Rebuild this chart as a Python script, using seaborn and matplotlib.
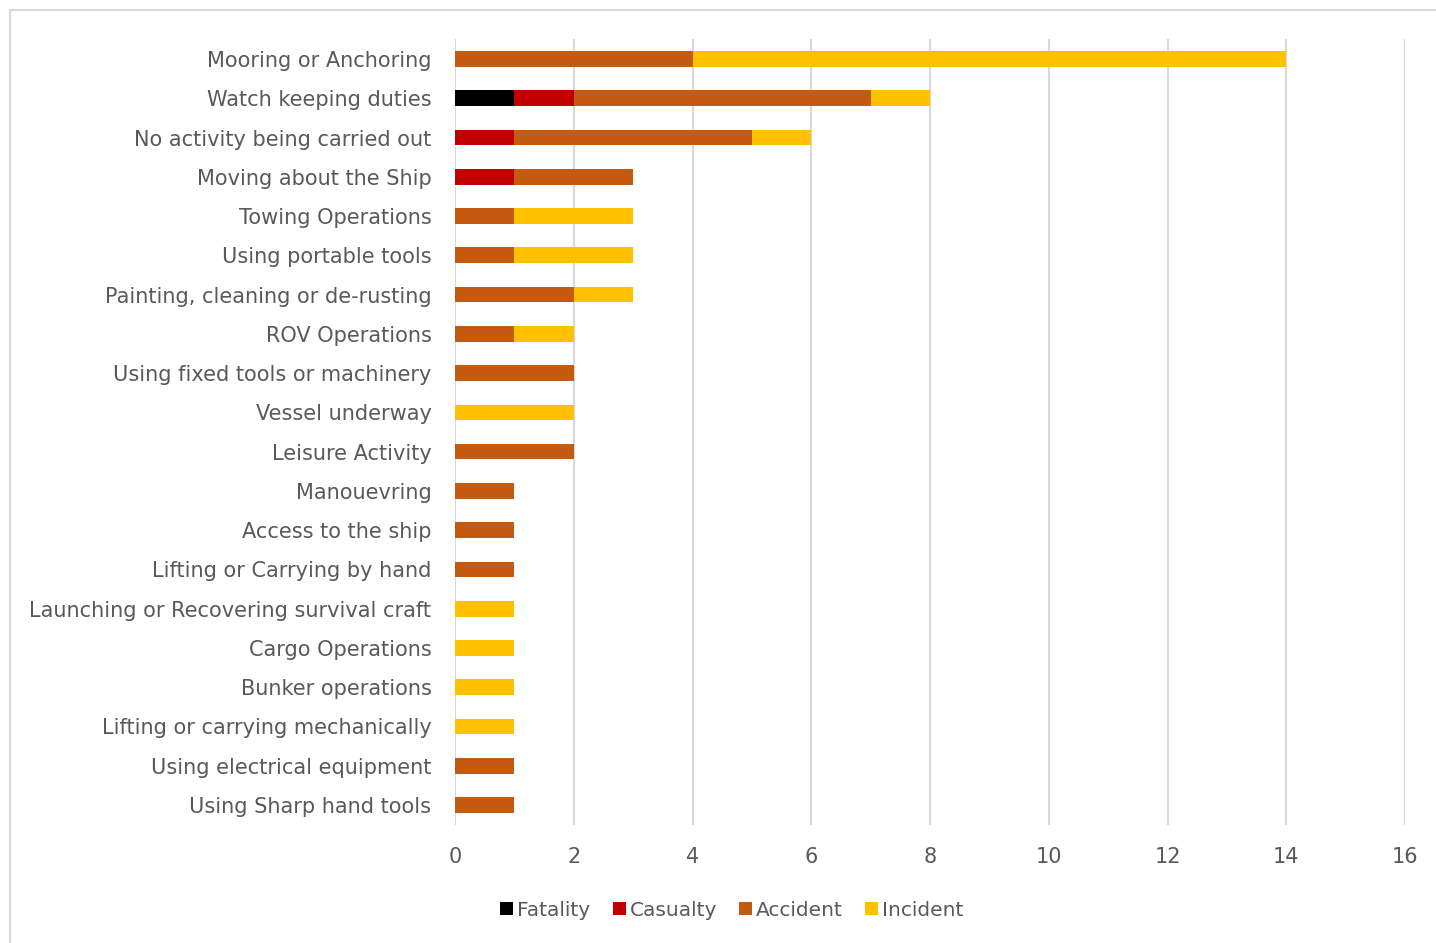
import matplotlib
matplotlib.use("Agg")
import matplotlib.pyplot as plt
import seaborn as sns
import pandas as pd
import numpy as np
from matplotlib.patches import Rectangle, Patch

categories = [
    "Mooring or Anchoring", "Watch keeping duties", "No activity being carried out",
    "Moving about the Ship", "Towing Operations", "Using portable tools",
    "Painting, cleaning or de-rusting", "ROV Operations", "Using fixed tools or machinery",
    "Vessel underway", "Leisure Activity", "Manouevring", "Access to the ship",
    "Lifting or Carrying by hand", "Launching or Recovering survival craft",
    "Cargo Operations", "Bunker operations", "Lifting or carrying mechanically",
    "Using electrical equipment", "Using Sharp hand tools",
]
fatality = [0, 1, 0, 0, 0, 0, 0, 0, 0, 0, 0, 0, 0, 0, 0, 0, 0, 0, 0, 0]
casualty = [0, 1, 1, 1, 0, 0, 0, 0, 0, 0, 0, 0, 0, 0, 0, 0, 0, 0, 0, 0]
accident = [4, 5, 4, 2, 1, 1, 2, 1, 2, 0, 2, 1, 1, 1, 0, 0, 0, 0, 1, 1]
incident = [10, 1, 1, 0, 2, 2, 1, 1, 0, 2, 0, 0, 0, 0, 1, 1, 1, 1, 0, 0]

series_names = ["Fatality", "Casualty", "Accident", "Incident"]
series_colors = ["#000000", "#C00000", "#C55A11", "#FFC000"]

sns.set_theme(style="white")
plt.rcParams['font.family'] = ['DejaVu Sans']
text_color = "#595959"

fig = plt.figure(figsize=(14.36, 9.43), dpi=100)
ax = fig.add_axes([455/1436, 1 - 824.6/943, (1405-455)/1436, (824.6-39.4)/943])

df = pd.DataFrame({"cat": categories, "Fatality": fatality, "Casualty": casualty,
                   "Accident": accident, "Incident": incident})
cum = df[series_names].cumsum(axis=1)

# draw from the largest cumulative total down so smaller segments sit on top
for name, color in reversed(list(zip(series_names, series_colors))):
    sns.barplot(x=cum[name], y=df["cat"], orient="h", color=color, width=0.4,
                ax=ax, saturation=1, linewidth=0, order=categories)

ax.set_xlim(0, 16)
ax.set_xticks(np.arange(0, 17, 2))
ax.set_xlabel("")
ax.set_ylabel("")
for s in ax.spines.values():
    s.set_visible(False)
ax.grid(axis="x", color="#D9D9D9", linewidth=1.5)
ax.grid(axis="y", visible=False)
ax.set_axisbelow(True)
ax.tick_params(axis="both", length=0, colors=text_color, labelsize=15)
ax.tick_params(axis="x", pad=16)
ax.tick_params(axis="y", pad=17)
for lbl in ax.get_yticklabels() + ax.get_xticklabels():
    lbl.set_color(text_color)

handles = [Patch(facecolor=c, edgecolor="none") for c in series_colors]
fig.legend(handles, series_names, loc="center", bbox_to_anchor=(732/1436, 1 - 910/943),
           ncol=4, frameon=False, fontsize=14.5, labelcolor=text_color,
           handlelength=0.65, handleheight=0.65, handletextpad=0.2, columnspacing=1.1)

fig.patches.append(Rectangle((10/1436, -0.05), 1.1, 1 - 10/943 + 0.05,
                             transform=fig.transFigure, fill=False,
                             edgecolor="#D9D9D9", linewidth=1.5))

fig.savefig("out.png", dpi=100, facecolor="white")
